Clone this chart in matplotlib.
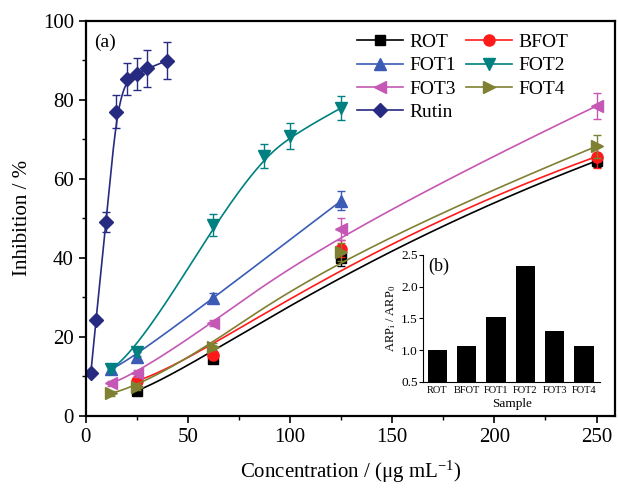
import matplotlib
matplotlib.use('Agg')
import matplotlib.pyplot as plt
import numpy as np

plt.rcParams['font.family'] = ['Liberation Serif', 'DejaVu Serif']
plt.rcParams['mathtext.default'] = 'regular'

# inhibition (%) vs concentration (ug/mL), mean and error
rot_x = [25, 62.5, 125, 250]
rot_y = [6.3, 14.3, 39.8, 64.5]
rot_e = [0.8, 1.0, 2.0, 1.5]

bfot_x = [25, 62.5, 125, 250]
bfot_y = [8.8, 15.3, 42.3, 65.6]
bfot_e = [1.0, 1.0, 2.2, 2.9]

fot1_x = [12.5, 25, 62.5, 125]
fot1_y = [11.8, 14.9, 29.8, 54.4]
fot1_e = [0.8, 1.2, 1.2, 2.4]

fot2_x = [12.5, 25, 62.5, 87.5, 100, 125]
fot2_y = [11.8, 16.2, 48.3, 65.7, 70.8, 77.9]
fot2_e = [0.8, 1.0, 2.7, 3.0, 3.3, 3.0]

fot3_x = [12.5, 25, 62.5, 125, 250]
fot3_y = [8.2, 10.7, 23.4, 47.3, 78.4]
fot3_e = [0.6, 0.8, 0.8, 2.7, 3.2]

fot4_x = [12.5, 25, 62.5, 125, 250]
fot4_y = [5.7, 7.3, 17.5, 41.5, 68.2]
fot4_e = [0.6, 0.8, 0.8, 2.3, 2.9]

rutin_x = [2.5, 5, 10, 15, 20, 25, 30, 40]
rutin_y = [10.8, 24.2, 49.1, 77.0, 85.2, 86.5, 87.9, 89.9]
rutin_e = [0.5, 0.6, 2.5, 4.2, 4.0, 4.1, 4.6, 4.7]

# relative antiradical power
samples = ['ROT', 'BFOT', 'FOT1', 'FOT2', 'FOT3', 'FOT4']
arp = [1.0, 1.06, 1.52, 2.33, 1.30, 1.07]


def bspline(x, y, num=300, p=3):
    # clamped cubic B-spline using the points as control points
    pts = np.column_stack([x, y]).astype(float)
    n = len(pts)
    p = min(p, n - 1)
    inner = np.linspace(0, 1, n - p + 1)
    knots = np.concatenate([np.zeros(p), inner, np.ones(p)])
    t = np.linspace(0, 1, num)
    t[-1] -= 1e-9

    def basis(i, k):
        if k == 0:
            return ((knots[i] <= t) & (t < knots[i + 1])).astype(float)
        out = np.zeros_like(t)
        if knots[i + k] > knots[i]:
            out += (t - knots[i]) / (knots[i + k] - knots[i]) * basis(i, k - 1)
        if knots[i + k + 1] > knots[i + 1]:
            out += (knots[i + k + 1] - t) / (knots[i + k + 1] - knots[i + 1]) * basis(i + 1, k - 1)
        return out

    B = np.column_stack([basis(i, p) for i in range(n)])
    curve = B @ pts
    return curve[:, 0], curve[:, 1]


series = [
    ('ROT', rot_x, rot_y, rot_e, 'black', 's', 7),
    ('BFOT', bfot_x, bfot_y, bfot_e, '#ff1a1a', 'o', 8),
    ('FOT1', fot1_x, fot1_y, fot1_e, '#3b5bb5', '^', 9),
    ('FOT2', fot2_x, fot2_y, fot2_e, '#008080', 'v', 9),
    ('FOT3', fot3_x, fot3_y, fot3_e, '#c458b4', '<', 9),
    ('FOT4', fot4_x, fot4_y, fot4_e, '#808033', '>', 9),
    ('Rutin', rutin_x, rutin_y, rutin_e, '#262a80', 'D', 7),
]

fig = plt.figure(figsize=(6.18, 4.92), dpi=100)
ax = fig.add_axes([0.1387, 0.155, 0.8563, 0.803])

handles = {}
for name, x, y, e, c, mk, ms in series:
    cx, cy = bspline(x, y)
    ax.plot(cx, cy, color=c, lw=1.2)
    ax.errorbar(x, y, yerr=e, fmt='none', ecolor=c, elinewidth=1.0, capsize=3, capthick=1.0)
    ax.plot(x, y, ls='none', marker=mk, ms=ms, color=c)
    handles[name] = plt.Line2D([], [], color=c, lw=1.2, marker=mk, ms=ms)

order = ['ROT', 'FOT1', 'FOT3', 'Rutin', 'BFOT', 'FOT2', 'FOT4']
ax.legend([handles[k] for k in order], order, ncol=2, frameon=False, fontsize=14,
          loc='upper left', bbox_to_anchor=(0.512, 0.968), borderaxespad=0, borderpad=0,
          handlelength=2.4, handletextpad=0.3, columnspacing=0.5, labelspacing=0.3)

ax.set_xlim(0, 259)
ax.set_ylim(0, 100)
ax.set_xticks([0, 50, 100, 150, 200, 250])
ax.set_xticks(np.arange(25, 260, 50), minor=True)
ax.set_yticks([0, 20, 40, 60, 80, 100])
ax.set_yticks(np.arange(10, 100, 20), minor=True)
ax.tick_params(which='major', direction='out', length=5, width=1.2, labelsize=15)
ax.tick_params(which='minor', direction='out', length=3, width=1.0)
for s in ax.spines.values():
    s.set_linewidth(1.6)
ax.set_xlabel('Concentration / (μg mL$^{-1}$)', fontsize=15, labelpad=9)
ax.set_ylabel('Inhibition / %', fontsize=15, labelpad=8)
ax.text(0.015, 0.968, '(a)', transform=ax.transAxes, fontsize=14, va='top')

# inset bar chart
ins = fig.add_axes([0.685, 0.224, 0.286, 0.258])
ins.patch.set_alpha(0)
ins.bar(range(len(samples)), arp, width=0.66, color='black', bottom=0)
ins.set_ylim(0.5, 2.5)
ins.set_xlim(-0.48, 5.55)
ins.set_yticks([0.5, 1.0, 1.5, 2.0, 2.5])
ins.set_xticks(range(len(samples)))
ins.set_xticklabels(samples, fontsize=7.5)
ins.tick_params(axis='y', direction='out', length=3, labelsize=9.5, pad=1)
ins.tick_params(axis='x', length=0, pad=3)
ins.spines['top'].set_visible(False)
ins.spines['right'].set_visible(False)
ins.set_xlabel('Sample', fontsize=9.5, labelpad=2)
ins.set_ylabel('ARP$_i$ / ARP$_0$', fontsize=9, labelpad=2)
ins.text(0.03, 0.98, '(b)', transform=ins.transAxes, fontsize=13, va='top')

fig.savefig('out.png', dpi=100)
